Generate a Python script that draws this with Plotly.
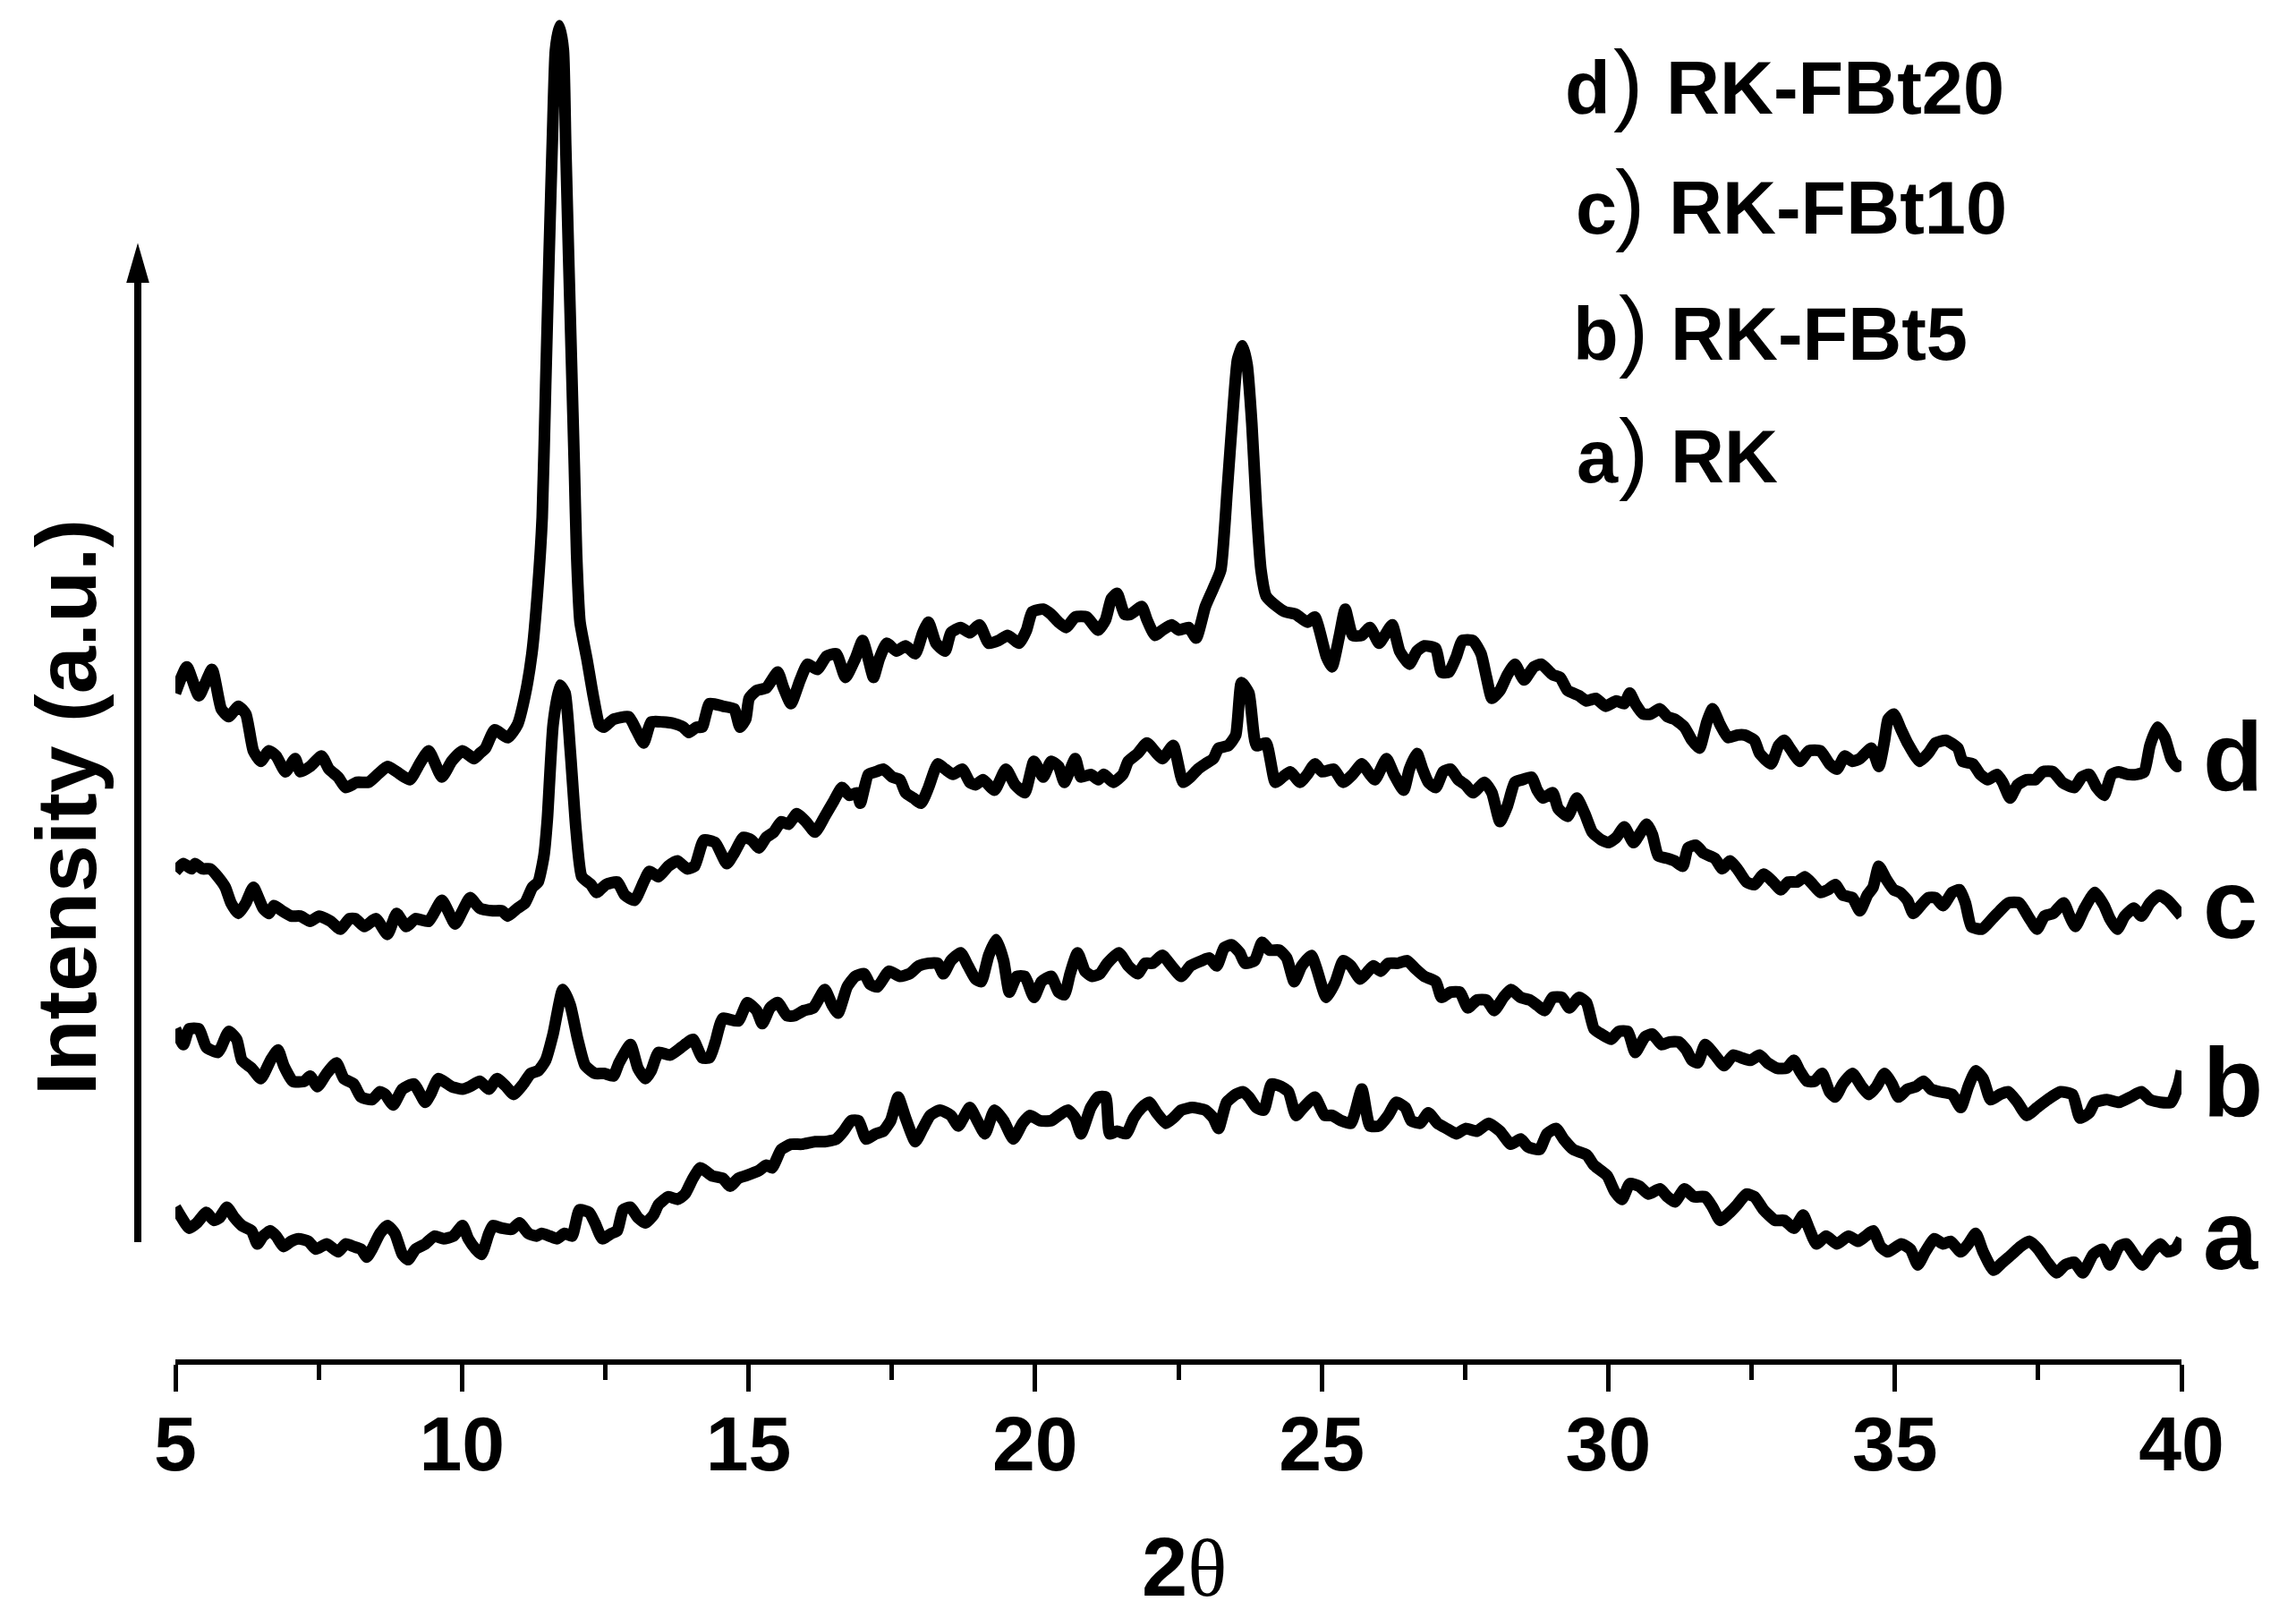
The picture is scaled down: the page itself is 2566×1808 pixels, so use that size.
import plotly.graph_objects as go

# ---------------- data (2theta in degrees, intensity in arbitrary units, traces stacked) -------------
two_theta_a = [5.00, 5.11, 5.24, 5.375, 5.54, 5.67, 5.77, 5.90, 6.03, 6.16, 6.33, 6.43, 6.53, 6.66, 6.76, 6.89,
               7.02, 7.15, 7.32, 7.45, 7.64, 7.84, 7.97, 8.11, 8.24, 8.34, 8.43, 8.57, 8.70, 8.83, 8.96, 9.06,
               9.19, 9.36, 9.52, 9.68, 9.85, 10.01, 10.11, 10.24, 10.34, 10.47, 10.54, 10.70, 10.87, 11.00,
               11.16, 11.30, 11.39, 11.53, 11.66, 11.79, 11.92, 12.05, 12.22, 12.32, 12.45, 12.61, 12.71,
               12.81, 12.94, 13.07, 13.20, 13.34, 13.43, 13.60, 13.76, 13.89, 14.03, 14.16, 14.36, 14.55,
               14.68, 14.82, 14.95, 15.18, 15.31, 15.41, 15.57, 15.74, 15.93, 16.16, 16.33, 16.53, 16.66,
               16.79, 16.92, 17.05, 17.22, 17.35, 17.48, 17.61, 17.74, 17.91, 18.04, 18.17, 18.34, 18.53,
               18.66, 18.86, 18.99, 19.125, 19.29, 19.45, 19.62, 19.78, 19.91, 20.08, 20.28, 20.41, 20.57,
               20.70, 20.80, 20.97, 21.10, 21.23, 21.30, 21.43, 21.59, 21.72, 21.86, 21.99, 22.12, 22.28,
               22.41, 22.55, 22.74, 22.97, 23.11, 23.20, 23.34, 23.50, 23.63, 23.73, 23.86, 23.99, 24.125,
               24.29, 24.42, 24.55, 24.68, 24.88, 25.05, 25.18, 25.34, 25.51, 25.70, 25.84, 26.00, 26.16,
               26.30, 26.46, 26.56, 26.72, 26.86, 27.02, 27.18, 27.35, 27.51, 27.71, 27.91, 28.11, 28.30,
               28.47, 28.60, 28.80, 28.93, 29.09, 29.22, 29.39, 29.62, 29.75, 29.98, 30.11, 30.24, 30.375,
               30.54, 30.70, 30.90, 31.03, 31.16, 31.33, 31.49, 31.69, 31.82, 31.95, 32.12, 32.25, 32.41,
               32.55, 32.71, 32.91, 33.07, 33.24, 33.40, 33.50, 33.63, 33.80, 33.99, 34.19, 34.36, 34.49,
               34.62, 34.75, 34.88, 35.11, 35.27, 35.40, 35.53, 35.69, 35.84, 35.97, 36.15, 36.28, 36.41,
               36.54, 36.72, 36.88, 37.04, 37.19, 37.35, 37.50, 37.66, 37.82, 37.97, 38.13, 38.28, 38.46,
               38.62, 38.75, 38.91, 39.04, 39.17, 39.32, 39.48, 39.63, 39.76, 39.89, 40.00]
intensity_a = [285, 265, 245, 255, 275, 260, 265, 285, 265, 250, 240, 215, 230, 240, 230, 210,
               220, 225, 220, 205, 215, 200, 215, 210, 205, 190, 205, 235, 250, 235, 195, 185,
               205, 215, 230, 225, 230, 250, 225, 205, 195, 235, 250, 245, 243, 255,
               235, 230, 235, 230, 225, 235, 230, 280, 275, 255, 225, 235, 240,
               280, 285, 265, 255, 270, 290, 305, 300, 310, 340, 360, 345, 340,
               325, 340, 345, 355, 365, 360, 395, 405, 405, 410, 410, 415, 430,
               450, 450, 415, 425, 430, 450, 495, 455, 410, 435, 460, 470, 460,
               440, 475, 450, 425, 470, 450, 415, 445, 460, 450, 450, 460, 470,
               455, 425, 475, 495, 495, 425, 430, 425, 455, 475, 485, 465, 445,
               455, 470, 475, 470, 455, 435, 485, 500, 505, 495, 475, 470, 520,
               515, 505, 460, 475, 495, 460, 460, 450, 445, 510, 440, 440, 460,
               485, 475, 450, 445, 465, 445, 435, 425, 435, 430, 445, 430, 405,
               415, 400, 395, 425, 435, 415, 395, 385, 365, 345, 315, 300, 330,
               325, 310, 320, 305, 295, 320, 305, 305, 285, 260, 275, 290, 310,
               305, 280, 260, 260, 245, 270, 245, 215, 230, 215, 230, 220, 230,
               240, 210, 200, 215, 205, 175, 200, 225, 215, 220, 200, 215, 235,
               200, 165, 180, 195, 210, 220, 205, 180, 160, 175, 180, 160, 195,
               205, 175, 210, 215, 195, 175, 200, 215, 200, 205, 225]

two_theta_b = [5.00, 5.14, 5.24, 5.41, 5.54, 5.74, 5.80, 5.93, 6.07, 6.16, 6.33, 6.49, 6.66, 6.79, 6.89,
               7.05, 7.25, 7.35, 7.48, 7.64, 7.81, 7.94, 8.11, 8.24, 8.43, 8.57, 8.66, 8.80, 8.96, 9.16,
               9.36, 9.45, 9.59, 9.82, 10.01, 10.14, 10.31, 10.47, 10.61, 10.77, 10.90, 11.07, 11.20,
               11.33, 11.46, 11.59, 11.76, 11.89, 12.02, 12.15, 12.32, 12.48, 12.64, 12.74, 12.94, 13.07,
               13.20, 13.30, 13.43, 13.63, 13.83, 14.03, 14.19, 14.32, 14.42, 14.55, 14.82, 14.98, 15.14,
               15.24, 15.375, 15.51, 15.67, 15.80, 15.97, 16.13, 16.33, 16.46, 16.56, 16.72, 16.86, 17.02,
               17.12, 17.25, 17.45, 17.64, 17.81, 17.97, 18.14, 18.30, 18.40, 18.53, 18.70, 18.83, 18.96,
               19.06, 19.19, 19.32, 19.45, 19.55, 19.68, 19.82, 19.98, 20.11, 20.28, 20.41, 20.51, 20.61,
               20.74, 20.87, 21.00, 21.13, 21.26, 21.46, 21.625, 21.79, 21.92, 22.05, 22.22, 22.38, 22.55,
               22.71, 22.91, 23.04, 23.17, 23.30, 23.43, 23.57, 23.66, 23.83, 23.96, 24.09, 24.26, 24.39,
               24.52, 24.65, 24.82, 24.91, 25.08, 25.24, 25.375, 25.51, 25.67, 25.77, 25.90, 26.03, 26.16,
               26.33, 26.49, 26.63, 26.79, 26.99, 27.09, 27.25, 27.41, 27.55, 27.71, 27.875, 28.01, 28.17,
               28.30, 28.47, 28.63, 28.76, 28.89, 29.03, 29.19, 29.32, 29.49, 29.62, 29.75, 29.88, 30.05,
               30.18, 30.34, 30.47, 30.64, 30.77, 30.93, 31.07, 31.23, 31.36, 31.46, 31.56, 31.69, 31.86,
               32.02, 32.18, 32.32, 32.48, 32.64, 32.78, 32.94, 33.11, 33.24, 33.34, 33.47, 33.60, 33.73,
               33.86, 33.96, 34.09, 34.26, 34.42, 34.55, 34.68, 34.82, 34.95, 35.06, 35.22, 35.37, 35.50,
               35.63, 35.79, 36.00, 36.15, 36.28, 36.41, 36.54, 36.67, 36.83, 36.98, 37.14, 37.30, 37.48,
               37.66, 37.89, 38.10, 38.23, 38.39, 38.49, 38.70, 38.91, 39.11, 39.30, 39.45, 39.63, 39.82,
               39.95, 40.00]
intensity_b = [625, 595, 625, 625, 590, 580, 590, 620, 605, 565, 550, 530, 565, 585, 555,
               525, 525, 535, 515, 540, 560, 530, 520, 495, 490, 505, 500, 480, 510, 520,
               485, 500, 530, 515, 510, 515, 525, 510, 530, 515, 500, 520, 540,
               545, 565, 615, 700, 670, 605, 555, 540, 540, 535, 560, 595, 550,
               530, 545, 580, 575, 590, 605, 570, 570, 600, 645, 640, 675, 660,
               635, 665, 675, 650, 650, 660, 665, 700, 670, 655, 705, 725, 730,
               710, 705, 735, 725, 730, 745, 750, 750, 730, 755, 770, 745, 720,
               715, 765, 795, 755, 695, 725, 725, 685, 715, 725, 695, 690, 730,
               770, 735, 725, 730, 750, 770, 745, 730, 750, 750, 765, 745, 725,
               745, 755, 760, 745, 780, 785, 770, 750, 755, 790, 775, 775, 760,
               715, 745, 765, 740, 685, 715, 755, 745, 720, 730, 745, 735, 750,
               750, 755, 740, 725, 715, 685, 695, 695, 665, 680, 680, 660, 685,
               700, 685, 680, 670, 660, 685, 685, 665, 685, 675, 625, 615, 605,
               620, 620, 580, 610, 615, 595, 600, 600, 585, 565, 560, 595, 575,
               555, 575, 570, 565, 575, 560, 550, 550, 565, 545, 525, 525, 540,
               505, 495, 520, 540, 515, 500, 515, 540, 520, 495, 510, 515, 525,
               510, 505, 500, 475, 515, 545, 530, 490, 500, 505, 485, 460, 475,
               490, 505, 500, 455, 465, 485, 490, 485, 495, 505, 490, 485, 485,
               520, 545]

two_theta_c = [5.00, 5.14, 5.28, 5.34, 5.47, 5.61, 5.74, 5.87, 5.97, 6.10, 6.23, 6.36, 6.53, 6.63, 6.72,
               6.86, 7.02, 7.18, 7.35, 7.51, 7.71, 7.875, 8.04, 8.14, 8.30, 8.50, 8.70, 8.86, 9.03, 9.19,
               9.42, 9.65, 9.88, 10.01, 10.14, 10.31, 10.54, 10.70, 10.80, 10.97, 11.10, 11.23, 11.33,
               11.43, 11.49, 11.59, 11.71, 11.80, 11.89, 11.99, 12.09, 12.25, 12.35, 12.51, 12.71, 12.84,
               13.01, 13.17, 13.27, 13.43, 13.60, 13.76, 13.93, 14.06, 14.22, 14.42, 14.62, 14.75, 14.91,
               15.05, 15.18, 15.31, 15.44, 15.57, 15.70, 15.84, 16.00, 16.16, 16.33, 16.49, 16.63, 16.76,
               16.89, 16.95, 17.09, 17.22, 17.35, 17.51, 17.64, 17.74, 17.875, 18.01, 18.14, 18.30, 18.43,
               18.57, 18.73, 18.86, 18.96, 19.09, 19.29, 19.49, 19.65, 19.82, 19.98, 20.14, 20.28, 20.41,
               20.51, 20.70, 20.80, 20.97, 21.10, 21.20, 21.36, 21.53, 21.625, 21.79, 21.95, 22.12, 22.22,
               22.41, 22.58, 22.71, 22.84, 22.97, 23.11, 23.20, 23.37, 23.50, 23.60, 23.73, 23.86, 24.03,
               24.19, 24.32, 24.45, 24.62, 24.75, 24.88, 25.01, 25.21, 25.375, 25.54, 25.70, 25.84, 25.93,
               26.13, 26.26, 26.43, 26.53, 26.66, 26.76, 26.86, 26.99, 27.12, 27.25, 27.38, 27.51, 27.64,
               27.84, 27.97, 28.11, 28.24, 28.37, 28.50, 28.66, 28.76, 28.86, 29.03, 29.125, 29.29, 29.45,
               29.59, 29.72, 29.88, 30.01, 30.14, 30.28, 30.44, 30.57, 30.67, 30.77, 30.87, 31.03, 31.16,
               31.30, 31.39, 31.53, 31.66, 31.86, 31.99, 32.12, 32.25, 32.41, 32.55, 32.71, 32.875, 33.01,
               33.14, 33.30, 33.43, 33.57, 33.70, 33.83, 33.96, 34.09, 34.26, 34.39, 34.52, 34.62, 34.72,
               34.85, 34.98, 35.09, 35.22, 35.32, 35.45, 35.58, 35.71, 35.84, 36.00, 36.13, 36.23, 36.335,
               36.52, 36.70, 36.83, 36.98, 37.17, 37.35, 37.48, 37.61, 37.76, 37.945, 38.05, 38.15, 38.31,
               38.49, 38.65, 38.75, 38.88, 39.01, 39.17, 39.30, 39.45, 39.61, 39.76, 40.00]
intensity_c = [925, 940, 930, 940, 930, 930, 915, 895, 865, 845, 865, 895, 855, 845, 860,
               850, 840, 840, 830, 840, 830, 815, 835, 835, 820, 835, 805, 845, 820, 835,
               830, 870, 825, 850, 875, 855, 850, 850, 840, 855, 865, 895, 905,
               955, 1025, 1205, 1280, 1265, 1155, 1005, 915, 900, 885, 900, 905, 880,
               870, 905, 925, 915, 935, 945, 930, 935, 985, 980, 940, 960, 990,
               985, 970, 990, 1000, 1020, 1015, 1035, 1020, 1000, 1030, 1060, 1085, 1070,
               1075, 1055, 1110, 1115, 1120, 1105, 1100, 1075, 1065, 1055, 1085, 1130, 1120,
               1110, 1120, 1095, 1090, 1100, 1080, 1120, 1090, 1075, 1135, 1105, 1135, 1125,
               1095, 1140, 1105, 1110, 1100, 1110, 1095, 1110, 1135, 1150, 1170, 1150, 1140,
               1165, 1095, 1105, 1120, 1130, 1140, 1160, 1165, 1185, 1285, 1265, 1165, 1170,
               1095, 1105, 1115, 1095, 1110, 1130, 1115, 1120, 1095, 1110, 1130, 1110, 1100,
               1140, 1110, 1080, 1120, 1150, 1120, 1095, 1085, 1115, 1120, 1100, 1090, 1075,
               1095, 1075, 1020, 1050, 1095, 1100, 1105, 1080, 1065, 1075, 1045, 1030, 1065,
               1035, 1000, 985, 980, 990, 1010, 980, 1000, 1015, 995, 955, 950, 945,
               935, 970, 975, 960, 950, 930, 945, 930, 905, 900, 920, 905, 890,
               905, 905, 915, 900, 885, 890, 900, 880, 875, 850, 880, 895, 935,
               910, 890, 885, 870, 845, 860, 875, 875, 860, 885, 890, 865, 820,
               815, 835, 850, 865, 865, 835, 815, 840, 845, 865, 840, 820, 855,
               885, 860, 835, 815, 840, 855, 840, 865, 880, 870, 840]

two_theta_d = [5.00, 5.20, 5.41, 5.64, 5.80, 5.93, 6.10, 6.23, 6.36, 6.49, 6.63, 6.76, 6.92, 7.09, 7.18,
               7.35, 7.55, 7.68, 7.84, 7.97, 8.17, 8.37, 8.53, 8.70, 8.86, 9.09, 9.26, 9.42, 9.65, 9.82,
               10.01, 10.21, 10.31, 10.41, 10.57, 10.80, 10.97, 11.10, 11.22, 11.32, 11.40, 11.46, 11.52,
               11.58, 11.63, 11.70, 11.77, 11.81, 11.86, 11.91, 11.96, 12.00, 12.06, 12.18, 12.29, 12.40,
               12.48, 12.64, 12.91, 13.04, 13.17, 13.30, 13.50, 13.70, 13.86, 13.96, 14.09, 14.19, 14.32,
               14.55, 14.75, 14.85, 14.95, 15.01, 15.14, 15.31, 15.51, 15.61, 15.74, 15.90, 16.03, 16.20,
               16.36, 16.53, 16.69, 16.86, 16.99, 17.09, 17.18, 17.28, 17.41, 17.58, 17.74, 17.91, 18.04,
               18.14, 18.27, 18.43, 18.53, 18.70, 18.86, 19.03, 19.19, 19.36, 19.52, 19.72, 19.85, 19.95,
               20.14, 20.28, 20.41, 20.54, 20.70, 20.90, 21.10, 21.23, 21.33, 21.43, 21.56, 21.66, 21.86,
               21.95, 22.09, 22.22, 22.38, 22.51, 22.68, 22.81, 22.97, 23.11, 23.24, 23.35, 23.45, 23.53,
               23.62, 23.70, 23.78, 23.86, 23.94, 24.03, 24.22, 24.36, 24.55, 24.75, 24.88, 25.08, 25.18,
               25.31, 25.41, 25.54, 25.70, 25.84, 26.00, 26.10, 26.23, 26.36, 26.53, 26.66, 26.79, 26.99,
               27.09, 27.22, 27.35, 27.45, 27.64, 27.78, 27.875, 27.97, 28.11, 28.24, 28.37, 28.53, 28.70,
               28.83, 29.03, 29.16, 29.29, 29.49, 29.62, 29.78, 29.95, 30.14, 30.28, 30.375, 30.47, 30.61,
               30.74, 30.90, 31.03, 31.16, 31.33, 31.46, 31.59, 31.72, 31.82, 31.95, 32.09, 32.25, 32.38,
               32.55, 32.64, 32.84, 32.97, 33.07, 33.17, 33.34, 33.50, 33.70, 33.86, 33.99, 34.125, 34.26,
               34.39, 34.59, 34.72, 34.82, 34.88, 34.98, 35.11, 35.22, 35.43, 35.58, 35.71, 35.89, 36.10,
               36.18, 36.36, 36.49, 36.62, 36.78, 36.88, 37.01, 37.14, 37.30, 37.45, 37.58, 37.76, 37.92,
               38.13, 38.26, 38.39, 38.52, 38.65, 38.78, 38.91, 39.06, 39.22, 39.35, 39.45, 39.58, 39.71,
               39.82, 39.92, 40.00]
intensity_d = [1265, 1315, 1260, 1310, 1235, 1220, 1240, 1225, 1155, 1135, 1155, 1145, 1115, 1140, 1115,
               1125, 1145, 1120, 1105, 1085, 1095, 1095, 1110, 1125, 1115, 1100, 1130, 1155, 1105, 1135,
               1155, 1140, 1150, 1160, 1195, 1180, 1205, 1260, 1340, 1460, 1600, 1850, 2100,
               2330, 2490, 2537, 2490, 2310, 2100, 1900, 1700, 1530, 1400, 1330, 1260, 1205,
               1200, 1215, 1220, 1195, 1170, 1210, 1210, 1207, 1200, 1190, 1200, 1200, 1245,
               1240, 1235, 1200, 1215, 1255, 1270, 1275, 1305, 1275, 1245, 1290, 1320, 1310,
               1335, 1340, 1295, 1330, 1365, 1330, 1295, 1330, 1360, 1345, 1355, 1340, 1380,
               1400, 1360, 1345, 1380, 1390, 1380, 1395, 1360, 1365, 1375, 1360, 1385, 1420,
               1425, 1415, 1400, 1390, 1410, 1410, 1385, 1405, 1445, 1455, 1415, 1415, 1430,
               1405, 1375, 1385, 1395, 1385, 1390, 1370, 1430, 1465, 1500, 1650, 1800, 1900,
               1927, 1890, 1780, 1620, 1500, 1450, 1430, 1420, 1415, 1400, 1410, 1335, 1315,
               1375, 1425, 1375, 1375, 1390, 1360, 1375, 1395, 1345, 1320, 1345, 1355, 1350,
               1305, 1305, 1335, 1365, 1365, 1340, 1295, 1255, 1270, 1300, 1320, 1290, 1315,
               1320, 1300, 1295, 1270, 1260, 1250, 1255, 1240, 1250, 1245, 1265, 1245, 1225,
               1225, 1235, 1220, 1215, 1200, 1175, 1160, 1210, 1235, 1205, 1180, 1185, 1185,
               1175, 1150, 1130, 1165, 1175, 1160, 1135, 1155, 1155, 1130, 1120, 1145, 1135,
               1140, 1160, 1125, 1175, 1215, 1225, 1195, 1170, 1135, 1150, 1170, 1175, 1160,
               1135, 1130, 1110, 1100, 1110, 1095, 1065, 1090, 1100, 1100, 1115, 1115, 1095,
               1085, 1105, 1110, 1085, 1070, 1110, 1115, 1110, 1110, 1115, 1165, 1200, 1180,
               1140, 1125, 1135]

x_ticks = [5, 10, 15, 20, 25, 30, 35, 40]
curve_labels = ["a", "b", "c", "d"]
legend_letters = ["d", "c", "b", "a"]
legend_names = ["RK-FBt20", "RK-FBt10", "RK-FBt5", "RK"]

# ---------------- figure -------------
# the page body has an 8px default margin, so the figure is drawn 8px smaller and
# positions below are given in window pixels.
BODY = 8
W, H = 2566 - BODY, 1808 - BODY
PLOT_L, PLOT_R, PLOT_T, PLOT_B = 196, 2438, 20, 1519   # window pixels
ML, MT = PLOT_L - BODY, PLOT_T - BODY
MR = W - (PLOT_R - BODY)
MB = H - (PLOT_B - BODY)
PW, PH = PLOT_R - PLOT_L, PLOT_B - PLOT_T

def px(fx):
    return (fx - PLOT_L) / PW

def py(fy):
    return (PLOT_B - fy) / PH

SANS = "Liberation Sans, Arial, sans-serif"

fig = go.Figure()
series = [(two_theta_a, intensity_a), (two_theta_b, intensity_b),
          (two_theta_c, intensity_c), (two_theta_d, intensity_d)]
for (xs, ys), lab in zip(series, curve_labels):
    fig.add_trace(go.Scatter(x=xs, y=ys, mode="lines", name=lab,
                             line=dict(color="black", width=13, shape="spline", smoothing=0.5),
                             showlegend=False, hoverinfo="skip"))

fig.update_layout(
    width=W, height=H,
    margin=dict(l=ML, r=MR, t=MT, b=MB, pad=0),
    paper_bgcolor="white", plot_bgcolor="white",
    showlegend=False,
    xaxis=dict(range=[5, 40], tickmode="array", tickvals=x_ticks,
               ticktext=[str(t) for t in x_ticks],
               showline=True, linecolor="black", linewidth=6,
               ticks="outside", ticklen=30, tickwidth=5, tickcolor="black",
               minor=dict(dtick=2.5, tick0=5, ticks="outside", ticklen=17, tickwidth=5,
                          tickcolor="black", showgrid=False),
               showgrid=False, zeroline=False,
               tickfont=dict(family=SANS, size=86, color="black", weight="bold"),
               ticklabelstandoff=-15),
    yaxis=dict(range=[-5, 2552], visible=False, showgrid=False, zeroline=False),
)

ann = []
# x-axis title
ann.append(dict(xref="paper", yref="paper", x=px(1323), y=py(1751), xanchor="center", yanchor="middle",
                text="<b>2</b><span style='font-family:Liberation Serif'>θ</span>",
                showarrow=False, font=dict(family=SANS, size=92, color="black")))
# y-axis title
ann.append(dict(xref="paper", yref="paper", x=px(74), y=py(902), xanchor="center", yanchor="middle",
                text="<b>Intensity (a.u.)</b>", textangle=-90,
                showarrow=False, font=dict(family=SANS, size=95, color="black")))
# curve labels at right
right_lab_y = {"d": 844, "c": 1009, "b": 1208, "a": 1379}
for lab in curve_labels:
    ann.append(dict(xref="paper", yref="paper", x=px(2460), y=py(right_lab_y[lab]),
                    xanchor="left", yanchor="middle", text="<b>%s</b>" % lab, showarrow=False,
                    font=dict(family=SANS, size=110, color="black")))
# legend block
LEG = 83
leg_baseline = [127, 261, 402, 539]
leg_letter_right = [1802, 1809, 1811, 1811]
leg_paren_right = [1838, 1840, 1844, 1844]
leg_text_left = [1860, 1863, 1865, 1865]
for i in range(4):
    bl = leg_baseline[i]
    ann.append(dict(xref="paper", yref="paper", x=px(leg_letter_right[i]), y=py(bl - 0.3465 * LEG),
                    xanchor="right", yanchor="middle", text="<b>%s</b>" % legend_letters[i],
                    showarrow=False, font=dict(family=SANS, size=LEG, color="black")))
    ann.append(dict(xref="paper", yref="paper", x=px(leg_paren_right[i]), y=py(bl - 0.3465 * 100),
                    xanchor="right", yanchor="middle", text=")",
                    showarrow=False, font=dict(family=SANS, size=100, color="black")))
    ann.append(dict(xref="paper", yref="paper", x=px(leg_text_left[i]), y=py(bl - 0.3465 * LEG),
                    xanchor="left", yanchor="middle", text="<b>%s</b>" % legend_names[i],
                    showarrow=False, font=dict(family=SANS, size=LEG, color="black")))
fig.update_layout(annotations=ann)

# intensity arrow (left)
shaft_x = px(154)
fig.add_shape(type="line", xref="paper", yref="paper", x0=shaft_x, x1=shaft_x,
              y0=py(1388), y1=py(305), line=dict(color="black", width=8))
fig.add_shape(type="path", xref="paper", yref="paper",
              path="M %f %f L %f %f L %f %f Z" % (px(142.5), py(315), px(154), py(275), px(165.5), py(315)),
              fillcolor="black", line=dict(color="black", width=2))

fig.write_html("out.html")
